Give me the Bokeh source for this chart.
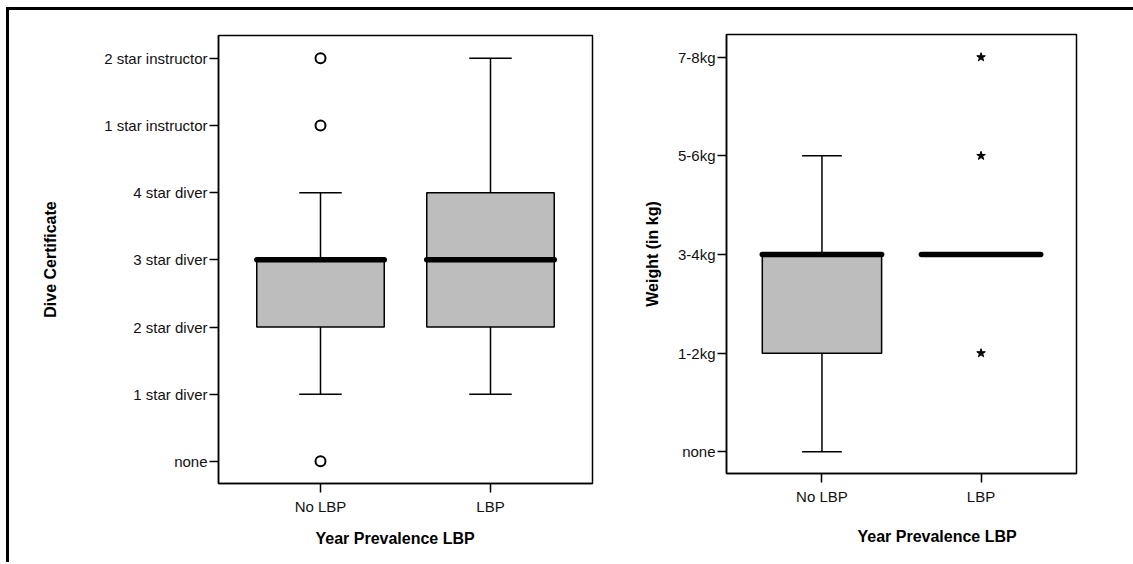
from bokeh.plotting import figure
from bokeh.models import Range1d, FixedTicker, Title
from bokeh.layouts import row, column
from bokeh.embed import file_html
from bokeh.resources import INLINE

# ---------------- data ----------------
groups = ["No LBP", "LBP"]

dive_levels = ["none", "1 star diver", "2 star diver", "3 star diver",
               "4 star diver", "1 star instructor", "2 star instructor"]
dive_q1 = [2, 2]
dive_median = [3, 3]
dive_q3 = [3, 4]
dive_lower = [1, 1]
dive_upper = [4, 6]
dive_outlier_group = ["No LBP", "No LBP", "No LBP"]
dive_outlier_value = [0, 5, 6]

weight_levels = ["none", "1-2kg", "3-4kg", "5-6kg", "7-8kg"]
weight_q1 = [1, 2]
weight_median = [2, 2]
weight_q3 = [2, 2]
weight_lower = [0, 2]
weight_upper = [3, 2]
weight_outlier_group = ["LBP", "LBP", "LBP"]
weight_outlier_value = [1, 3, 4]

x_title = "Year Prevalence LBP"

FONT = "Liberation Sans"
BOX_W = 0.75
CAP_W = 0.25


def boxplot(p, q1, med, q3, lo, hi):
    xs = [i + 1 for i in range(len(groups))]
    for x, a, b, c, d in zip(xs, lo, q1, q3, hi):
        if d > c:
            p.segment(x0=[x], y0=[c], x1=[x], y1=[d], line_color="black", line_width=1.5)
            p.segment(x0=[x - CAP_W / 2], y0=[d], x1=[x + CAP_W / 2], y1=[d],
                      line_color="black", line_width=1.5)
        if a < b:
            p.segment(x0=[x], y0=[a], x1=[x], y1=[b], line_color="black", line_width=1.5)
            p.segment(x0=[x - CAP_W / 2], y0=[a], x1=[x + CAP_W / 2], y1=[a],
                      line_color="black", line_width=1.5)
    bx = [x for x, b, c in zip(xs, q1, q3) if c > b]
    bb = [b for b, c in zip(q1, q3) if c > b]
    bt = [c for b, c in zip(q1, q3) if c > b]
    p.vbar(x=bx, width=BOX_W, bottom=bb, top=bt, fill_color="#bdbdbd",
           line_color="black", line_width=1.5)
    p.segment(x0=[x - BOX_W / 2 for x in xs], y0=med,
              x1=[x + BOX_W / 2 for x in xs], y1=med,
              line_color="black", line_width=5.5, line_cap="round")


def style(p, levels, ylabel, ystandoff):
    p.xaxis.ticker = FixedTicker(ticks=[i + 1 for i in range(len(groups))])
    p.xaxis.major_label_overrides = {i + 1: g for i, g in enumerate(groups)}
    p.yaxis.ticker = FixedTicker(ticks=list(range(len(levels))))
    p.yaxis.major_label_overrides = {i: l for i, l in enumerate(levels)}
    p.yaxis.axis_label = ylabel
    p.yaxis.axis_label_standoff = ystandoff
    p.yaxis.axis_label_text_font = FONT
    p.yaxis.axis_label_text_font_size = "16px"
    p.yaxis.axis_label_text_font_style = "bold"
    p.yaxis.axis_label_text_color = "black"
    for ax in (p.xaxis, p.yaxis):
        ax.major_label_text_font = FONT
        ax.major_label_text_font_size = "15px"
        ax.major_label_text_color = "#111111"
        ax.major_tick_in = 0
        ax.major_tick_out = 9
        ax.major_tick_line_width = 1.5
        ax.major_tick_line_color = "black"
        ax.minor_tick_line_color = None
        ax.axis_line_color = "black"
        ax.axis_line_width = 1.5
    p.yaxis.major_label_standoff = 2
    p.xaxis.major_label_standoff = 5
    p.xgrid.visible = False
    p.ygrid.visible = False
    p.outline_line_color = "black"
    p.outline_line_width = 1.5


def xtitle(p, offset_x, standoff):
    p.add_layout(Title(text=x_title, align="left", offset=offset_x, standoff=standoff,
                       text_font=FONT, text_font_size="16px", text_font_style="bold",
                       text_color="black"), "below")


# ---------------- left panel ----------------
p1 = figure(width=631, height=552, output_backend="svg", toolbar_location=None,
            x_range=Range1d(0.4, 2.6), y_range=Range1d(-0.33, 6.34),
            min_border_left=209, min_border_right=48, min_border_top=25,
            min_border_bottom=79)
boxplot(p1, dive_q1, dive_median, dive_q3, dive_lower, dive_upper)
p1.scatter(x=[groups.index(g) + 1 for g in dive_outlier_group], y=dive_outlier_value,
           marker="circle", size=10, fill_color="white", line_color="black", line_width=2)
style(p1, dive_levels, "Dive Certificate", 42)
xtitle(p1, 97, 20)

# ---------------- right panel ----------------
p2 = figure(width=493, height=552, output_backend="svg", toolbar_location=None,
            x_range=Range1d(0.4, 2.6), y_range=Range1d(-0.22, 4.23),
            min_border_left=77, min_border_right=57, min_border_top=24,
            min_border_bottom=89)
boxplot(p2, weight_q1, weight_median, weight_q3, weight_lower, weight_upper)
p2.scatter(x=[groups.index(g) + 1 for g in weight_outlier_group], y=weight_outlier_value,
           marker="star", size=9, fill_color="black", line_color="black", line_width=1)
style(p2, weight_levels, "Weight (in kg)", 14)
xtitle(p2, 131, 36)

layout = row(column(p1), column(p2), margin=(7, 0, 0, 6),
             styles={"border-top": "3px solid black", "border-left": "3px solid black"})

open("out.html", "w").write(file_html(layout, INLINE))
